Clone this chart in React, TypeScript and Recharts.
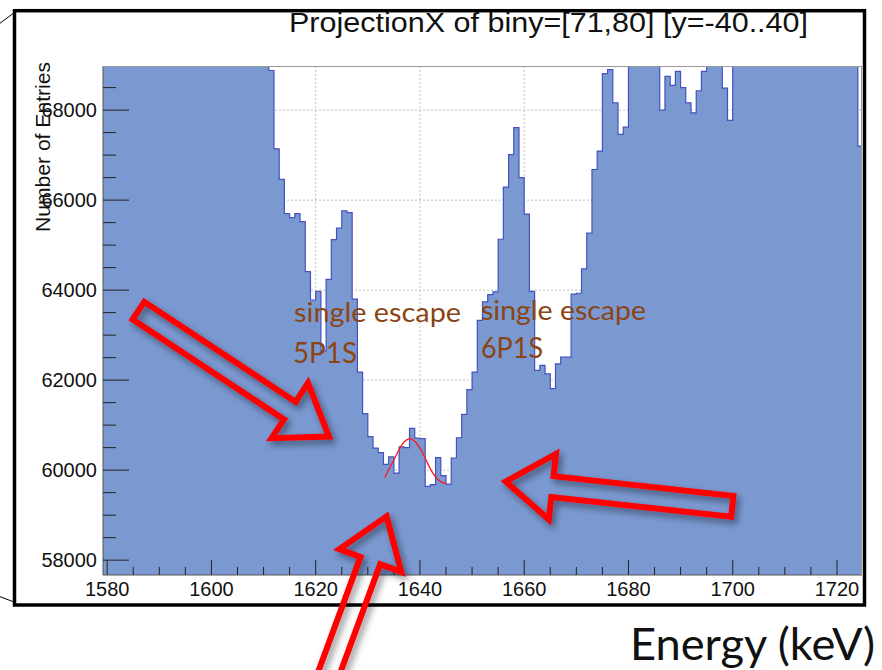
import { ComposedChart, Area, Line, XAxis, YAxis, CartesianGrid } from "recharts";

// 1 keV bins, lower edge of the first bin
const binStart = 1579;

const counts = [
  // 1579 - 1610 (above the frame top)
  73800, 73600, 73500, 73300, 73200, 73000, 72900, 72700, 72600, 72400,
  72300, 72100, 72000, 71800, 71700, 71500, 71400, 71300, 71100, 71000,
  70900, 70800, 70600, 70500, 70300, 70200, 70000, 69900, 69700, 69500,
  69300, 69100,
  // 1611 - 1630
  68880, 67140, 66460, 65700, 65610, 65700, 65520, 64410, 63780, 63970,
  62650, 64240, 65120, 65380, 65760, 65720, 63800, 62180, 61255, 60745,
  // 1631 - 1650
  60490, 60390, 60130, 60295, 59935, 60515, 60500, 60930, 60710, 60700,
  59640, 59680, 60280, 59880, 59690, 60270, 60720, 61240, 61790, 62180,
  // 1651 - 1670
  63330, 63740, 63900, 63960, 65130, 66290, 67010, 67610, 66500, 65690,
  63970, 62215, 62330, 62140, 61810, 62360, 62510, 62510, 63910, 63930,
  // 1671 - 1690
  64470, 65265, 66680, 67090, 68810, 68900, 68160, 67460, 67620, 69600,
  70100, 69900, 70300, 70000, 69500, 68000, 68750, 68550, 68860, 68500,
  // 1691 - 1700
  68160, 67940, 68430, 68860, 69400, 69700, 69300, 68490, 67770, 69800,
  // 1701 - 1724
  70200, 70400, 70100, 70600, 70900, 70700, 71000, 71300, 71100, 71500,
  71800, 71600, 72000, 72300, 72100, 72500, 72800, 72600, 73000, 73300,
  73100, 73500, 73700, 67200,
];

// gaussian fit drawn over the 1638 keV bump
const fitEnergy = [1633.2, 1634.2, 1635.2, 1636.2, 1637.1, 1638.1, 1639.0, 1640.0, 1641.0, 1641.9, 1642.9, 1643.9, 1645.1];
const fitCounts = [59830, 60050, 60270, 60500, 60640, 60700, 60640, 60490, 60270, 60050, 59860, 59750, 59700];

const xTicks = [
  1580, 1585, 1590, 1595, 1600, 1605, 1610, 1615, 1620, 1625, 1630, 1635, 1640, 1645, 1650,
  1655, 1660, 1665, 1670, 1675, 1680, 1685, 1690, 1695, 1700, 1705, 1710, 1715, 1720,
];
const xLabels = [1580, 1600, 1620, 1640, 1660, 1680, 1700, 1720];
const yTicks = [
  58000, 58500, 59000, 59500, 60000, 60500, 61000, 61500, 62000, 62500, 63000,
  63500, 64000, 64500, 65000, 65500, 66000, 66500, 67000, 67500, 68000, 68500,
];
const yLabels = [58000, 60000, 62000, 64000, 66000, 68000];

const histData = counts.map((n, i) => ({ e: binStart + i, n }));
histData.push({ e: binStart + counts.length, n: counts[counts.length - 1] });
const fitData = fitEnergy.map((e, i) => ({ e, n: fitCounts[i] }));

const W = 882;
const H = 670;
const AXIS_FONT = "'Liberation Sans', Arial, Helvetica, sans-serif";
const SLIDE_FONT = "Lato, 'Open Sans', sans-serif";
const BROWN = "#8b4513";

// ROOT style: ticks point into the frame, labels outside
const YTick = ({ x, y, payload }: any) => {
  const major = yLabels.includes(payload.value);
  return (
    <g>
      <line x1={x} x2={x + (major ? 26 : 13)} y1={y} y2={y} stroke="#222" strokeWidth={1} />
      {major && (
        <text x={x - 6} y={y} dy="0.36em" textAnchor="end" fontSize={20} fontFamily={AXIS_FONT} fill="#111">
          {payload.value}
        </text>
      )}
    </g>
  );
};

const XTick = ({ x, y, payload }: any) => {
  const major = xLabels.includes(payload.value);
  return (
    <g>
      <line x1={x} x2={x} y1={y} y2={y - (major ? 15 : 8)} stroke="#222" strokeWidth={1} />
      {major && (
        <text x={x} y={y + 21} textAnchor="middle" fontSize={20} fontFamily={AXIS_FONT} fill="#111">
          {payload.value}
        </text>
      )}
    </g>
  );
};

type Pt = [number, number];

// hollow block arrow outline from tail centre to tip
function arrowPoints(tail: Pt, tip: Pt, shaft: number, head: number, headLen: number) {
  const dx = tip[0] - tail[0];
  const dy = tip[1] - tail[1];
  const len = Math.hypot(dx, dy);
  const ux = dx / len;
  const uy = dy / len;
  const nx = -uy;
  const ny = ux;
  const bx = tip[0] - ux * headLen;
  const by = tip[1] - uy * headLen;
  const pts: Pt[] = [
    [tail[0] + nx * shaft, tail[1] + ny * shaft],
    [bx + nx * shaft, by + ny * shaft],
    [bx + nx * head, by + ny * head],
    tip,
    [bx - nx * head, by - ny * head],
    [bx - nx * shaft, by - ny * shaft],
    [tail[0] - nx * shaft, tail[1] - ny * shaft],
  ];
  return pts.map((p) => `${p[0].toFixed(1)},${p[1].toFixed(1)}`).join(" ");
}

const arrows: { tail: Pt; tip: Pt }[] = [
  { tail: [138.5, 310.6], tip: [329, 436.6] },
  { tail: [732.3, 506.4], tip: [505.7, 481.5] },
  { tail: [310.6, 722.9], tip: [386.6, 516.4] },
];

function Overlay() {
  return (
    <svg width={W} height={H} style={{ position: "absolute", left: 0, top: 0, pointerEvents: "none" }}>
      <defs>
        <filter id="arrowShadow" x="-20%" y="-20%" width="140%" height="140%">
          <feDropShadow dx="3" dy="4" stdDeviation="3.5" floodColor="#000" floodOpacity="0.45" />
        </filter>
      </defs>

      {/* frame top and right edges */}
      <line x1={103} x2={862} y1={66.5} y2={66.5} stroke="#9a9a9a" strokeWidth={1} />
      <line x1={861.5} x2={861.5} y1={66} y2={575} stroke="#9a9a9a" strokeWidth={1} />

      {/* canvas border */}
      <rect x={14.5} y={10.7} width={850} height={594.3} fill="none" stroke="#000" strokeWidth={3.5} />
      <line x1={0} y1={23.3} x2={13.3} y2={13.3} stroke="#000" strokeWidth={1} />
      <line x1={0} y1={596.7} x2={13.3} y2={601.7} stroke="#000" strokeWidth={1} />

      <text x={289} y={32} fontSize={27} fontFamily={AXIS_FONT} fill="#111" textLength={519} lengthAdjust="spacingAndGlyphs">
        ProjectionX of biny=[71,80] [y=-40..40]
      </text>

      <text
        x={50}
        y={232}
        transform="rotate(-90 50 232)"
        fontSize={20}
        fontFamily={AXIS_FONT}
        fill="#111"
        textLength={170}
        lengthAdjust="spacingAndGlyphs"
      >
        Number of Entries
      </text>

      <g fontFamily={SLIDE_FONT} fill={BROWN}>
        <text x={294} y={322} fontSize={27} textLength={167} lengthAdjust="spacingAndGlyphs">single escape</text>
        <text x={293} y={363} fontSize={28} textLength={64} lengthAdjust="spacingAndGlyphs">5P1S</text>
        <text x={481} y={320} fontSize={27} textLength={165} lengthAdjust="spacingAndGlyphs">single escape</text>
        <text x={481} y={358} fontSize={28} textLength={62} lengthAdjust="spacingAndGlyphs">6P1S</text>
      </g>

      {arrows.map((a, i) => (
        <polygon
          key={i}
          points={arrowPoints(a.tail, a.tip, 10.5, 33, 47)}
          fill="none"
          stroke="#ff0000"
          strokeWidth={6}
          strokeLinejoin="miter"
          filter="url(#arrowShadow)"
        />
      ))}

      <text x={630} y={660} fontSize={45} fontFamily={SLIDE_FONT} fill="#111" textLength={245} lengthAdjust="spacingAndGlyphs">
        Energy (keV)
      </text>
    </svg>
  );
}

export default function App() {
  return (
    <div style={{ position: "absolute", left: 0, top: 0, width: W, height: H, background: "#fff" }}>
      <ComposedChart width={W} height={H} margin={{ top: 66, right: 20, bottom: 0, left: 0 }}>
        <CartesianGrid
          stroke="#bdbdbd"
          strokeDasharray="2 2"
          horizontalValues={yLabels}
          verticalValues={xLabels}
        />
        <Area
          data={histData}
          dataKey="n"
          type="stepAfter"
          stroke="#4352c0"
          strokeWidth={1.2}
          fill="#7b99d1"
          fillOpacity={1}
          isAnimationActive={false}
        />
        <Line
          data={fitData}
          dataKey="n"
          type="monotone"
          stroke="#ff1a1a"
          strokeWidth={1.3}
          dot={false}
          isAnimationActive={false}
        />
        <XAxis
          dataKey="e"
          type="number"
          domain={[1579.2, 1724.8]}
          allowDataOverflow
          ticks={xTicks}
          interval={0}
          height={95}
          tickSize={0}
          tickMargin={0}
          tickLine={false}
          axisLine={{ stroke: "#555" }}
          tick={XTick}
        />
        <YAxis
          type="number"
          domain={[57670, 68980]}
          allowDataOverflow
          ticks={yTicks}
          interval={0}
          width={103}
          tickSize={0}
          tickMargin={0}
          tickLine={false}
          axisLine={{ stroke: "#555" }}
          tick={YTick}
        />
      </ComposedChart>
      <Overlay />
    </div>
  );
}
